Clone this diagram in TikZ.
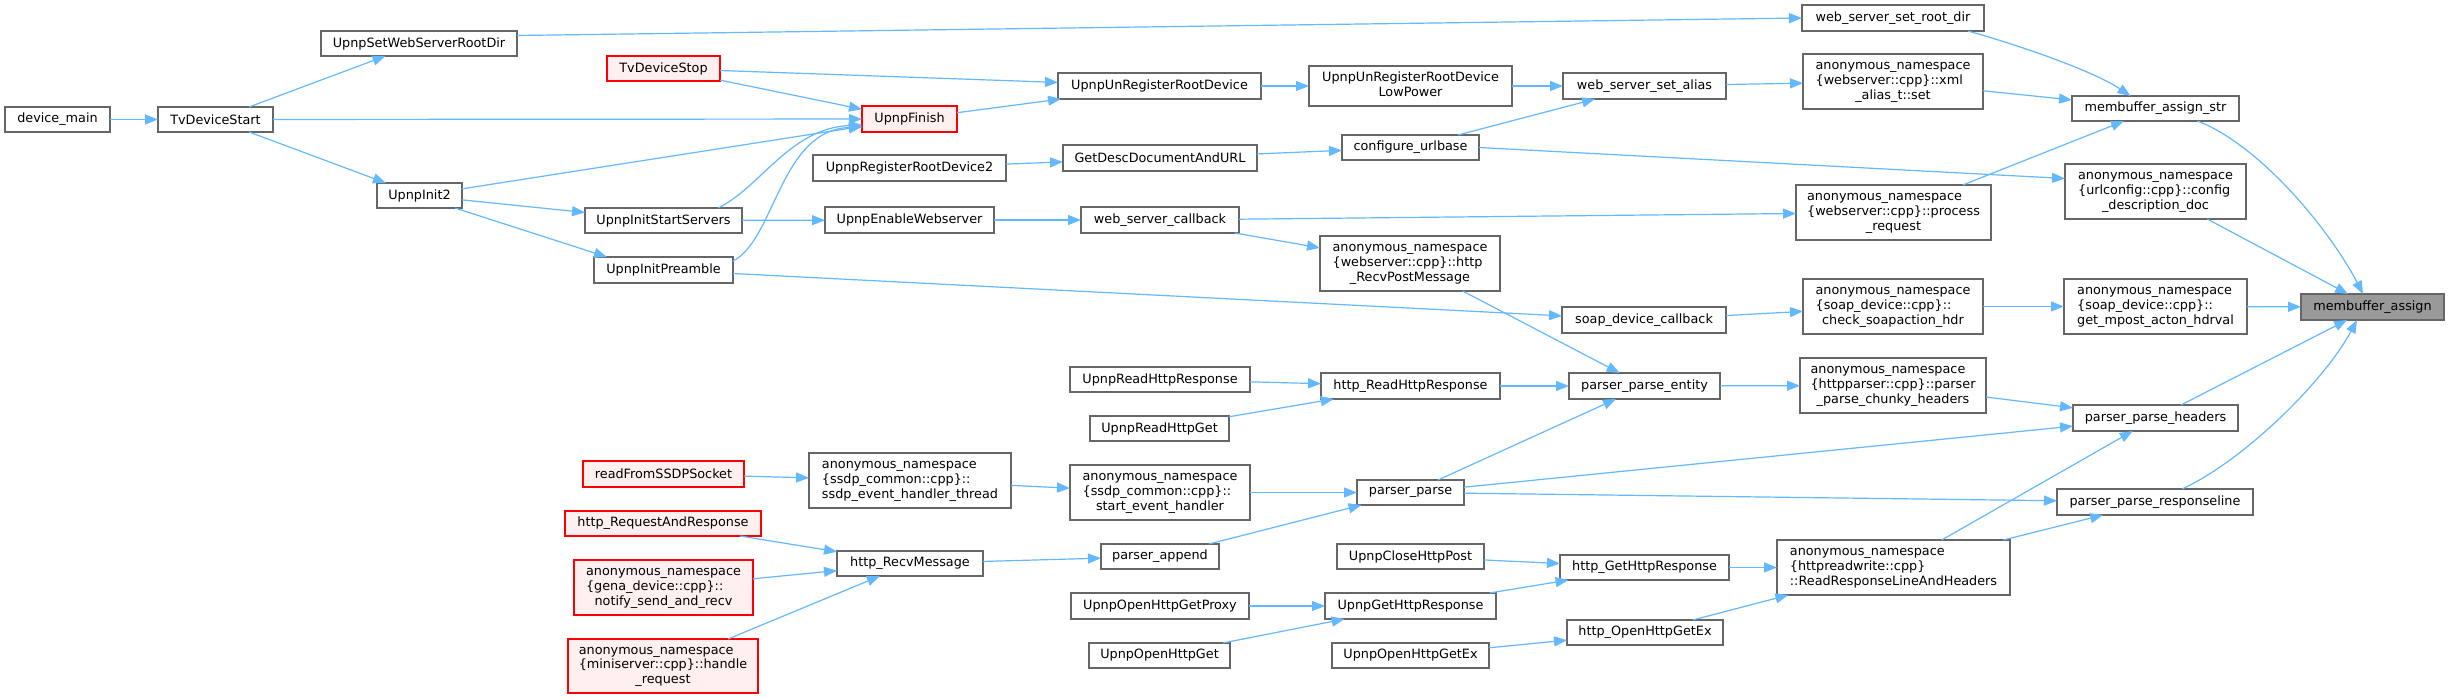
\documentclass[tikz,border=0pt]{standalone}
\usepackage{fontspec}
\setmainfont{DejaVu Sans}
\usetikzlibrary{arrows.meta,calc}
\definecolor{edgec}{HTML}{63B8FF}
\definecolor{nborder}{HTML}{666666}
\definecolor{rfill}{HTML}{FFF0F0}
\definecolor{rborder}{HTML}{FF0000}
\definecolor{gfill}{HTML}{999999}
\newcommand\gnode[7][]{\node[nbox,#1,minimum width={(#4-#2)*1pt},minimum height={(#5-#3)*1pt}] (#6) at ({(#2+#4)/2},{(#3+#5)/2}) {#7};}
\newcommand\threel[3]{\begin{tabular}{@{}l@{}}#1\\#2\\\multicolumn{1}{@{}c@{}}{#3}\end{tabular}}
\newcommand\twol[2]{\begin{tabular}{@{}l@{}}#1\\\multicolumn{1}{@{}c@{}}{#2}\end{tabular}}
\begin{document}
\begin{tikzpicture}[x=1pt,y=-1pt,
  nbox/.style={draw=nborder,fill=white,line width=1.25pt,inner sep=0pt,outer sep=0pt,
    font=\fontsize{12.8pt}{14.7pt}\selectfont,text=black},
  rbox/.style={draw=rborder,fill=rfill,line width=1.1pt},
  gbox/.style={fill=gfill},
  cedge/.style={draw=edgec,line width=1.2pt,-{Triangle[length=13pt,width=10pt]}}]
\fill[white] (0,0) rectangle (2449,699);
\useasboundingbox (0,0) rectangle (2449,699);
% nodes
\gnode{5}{107}{110}{132}{dm}{device\_main}
\gnode{158}{107}{273}{132}{tds}{TvDeviceStart}
\gnode{321}{31}{517}{56}{uswsrd}{UpnpSetWebServerRootDir}
\gnode[rbox]{607}{56}{720}{81}{tdstop}{TvDeviceStop}
\gnode{377}{183}{462}{208}{ui2}{UpnpInit2}
\gnode{585}{208}{742}{233}{uiss}{UpnpInitStartServers}
\gnode{594}{257}{733}{283}{uip}{UpnpInitPreamble}
\gnode[rbox]{862}{106}{957}{132}{uf}{UpnpFinish}
\gnode{1058}{73}{1261}{99}{uurd}{UpnpUnRegisterRootDevice}
\gnode{1309}{66}{1512}{106}{uurdlp}{\twol{UpnpUnRegisterRootDevice}{LowPower}}
\gnode{1563}{73}{1726}{99}{wssa}{web\_server\_set\_alias}
\gnode{1342}{135}{1479}{160}{cu}{configure\_urlbase}
\gnode{813}{155}{1006}{181}{urrd2}{UpnpRegisterRootDevice2}
\gnode{1063}{145}{1257}{171}{gdd}{GetDescDocumentAndURL}
\gnode{825}{207}{994}{233}{uew}{UpnpEnableWebserver}
\gnode{1081}{207}{1239}{233}{wsc}{web\_server\_callback}
\gnode{1320}{236}{1500}{291}{hrpm}{\threel{anonymous\_namespace}{\{webserver::cpp\}::http}{\_RecvPostMessage}}
\gnode{1562}{307}{1726}{333}{sdc}{soap\_device\_callback}
\gnode{1802}{5}{1984}{31}{wssrd}{web\_server\_set\_root\_dir}
\gnode{1803}{54}{1983}{109}{xas}{\threel{anonymous\_namespace}{\{webserver::cpp\}::xml}{\_alias\_t::set}}
\gnode{2072}{96}{2239}{121}{mas}{membuffer\_assign\_str}
\gnode{2065}{164}{2246}{219}{cdd}{\threel{anonymous\_namespace}{\{urlconfig::cpp\}::config}{\_description\_doc}}
\gnode{1796}{185}{1991}{240}{pr}{\threel{anonymous\_namespace}{\{webserver::cpp\}::process}{\_request}}
\gnode{1803}{279}{1983}{334}{csh}{\threel{anonymous\_namespace}{\{soap\_device::cpp\}::}{check\_soapaction\_hdr}}
\gnode{2064}{279}{2247}{334}{gmah}{\threel{anonymous\_namespace}{\{soap\_device::cpp\}::}{get\_mpost\_acton\_hdrval}}
\gnode[gbox]{2301}{294}{2444}{320}{ma}{membuffer\_assign}
\gnode[rbox]{583}{461}{744}{487}{rfs}{readFromSSDPSocket}
\gnode[rbox]{565}{511}{761}{536}{hrar}{http\_RequestAndResponse}
\gnode[rbox]{574}{560}{753}{615}{nsr}{\threel{anonymous\_namespace}{\{gena\_device::cpp\}::}{notify\_send\_and\_recv}}
\gnode[rbox]{568}{639}{758}{693}{hreq}{\threel{anonymous\_namespace}{\{miniserver::cpp\}::handle}{\_request}}
\gnode{809}{453}{1011}{508}{seht}{\threel{anonymous\_namespace}{\{ssdp\_common::cpp\}::}{ssdp\_event\_handler\_thread}}
\gnode{1070}{367}{1250}{392}{urhr}{UpnpReadHttpResponse}
\gnode{1321}{373}{1500}{399}{hrhr}{http\_ReadHttpResponse}
\gnode{1569}{373}{1720}{399}{ppe}{parser\_parse\_entity}
\gnode{1090}{416}{1229}{441}{urhg}{UpnpReadHttpGet}
\gnode{1070}{465}{1250}{520}{seh}{\threel{anonymous\_namespace}{\{ssdp\_common::cpp\}::}{start\_event\_handler}}
\gnode{1357}{480}{1464}{505}{pp}{parser\_parse}
\gnode{837}{551}{983}{576}{hrm}{http\_RecvMessage}
\gnode{1101}{544}{1219}{569}{pa}{parser\_append}
\gnode{1337}{544}{1484}{569}{uchp}{UpnpCloseHttpPost}
\gnode{1560}{555}{1729}{580}{hghr}{http\_GetHttpResponse}
\gnode{1071}{593}{1249}{619}{uohgp}{UpnpOpenHttpGetProxy}
\gnode{1325}{593}{1496}{619}{ughr}{UpnpGetHttpResponse}
\gnode{1089}{643}{1230}{668}{uohg}{UpnpOpenHttpGet}
\gnode{1332}{643}{1489}{668}{uohge}{UpnpOpenHttpGetEx}
\gnode{1567}{620}{1723}{645}{hohge}{http\_OpenHttpGetEx}
\gnode{1800}{358}{1986}{413}{ppch}{\threel{anonymous\_namespace}{\{httpparser::cpp\}::parser}{\_parse\_chunky\_headers}}
\gnode{2073}{405}{2238}{431}{pph}{parser\_parse\_headers}
\gnode{2057}{489}{2253}{515}{pprl}{parser\_parse\_responseline}
\gnode{1777}{540}{2010}{595}{rrlh}{\threel{anonymous\_namespace}{\{httpreadwrite::cpp\}}{::ReadResponseLineAndHeaders}}
% edges
\draw[cedge] (dm) -- (tds);
\draw[cedge] (tds) -- (uswsrd);
\draw[cedge] (tds) -- (uf);
\draw[cedge] (tds) -- (ui2);
\draw[cedge] ([yshift=8pt]uswsrd.east) -- (wssrd.west);
\draw[cedge] (tdstop) -- (uurd);
\draw[cedge] (tdstop) -- (uf);
\draw[cedge] (ui2) -- (uf);
\draw[cedge] (ui2) -- (uiss);
\draw[cedge] ([xshift=-7pt]ui2.south east) -- ([xshift=13pt]uip.north west);
\draw[cedge] ([xshift=-24pt]uiss.north east) .. controls (760,188) and (790,128) .. ([yshift=-6pt]uf.west);
\draw[cedge] ([yshift=9pt]uip.east) .. controls (775,240) and (780,130) .. ([yshift=-8pt]uf.west);
\draw[cedge] (uiss) -- (uew);
\draw[cedge] (uip) -- (sdc);
\draw[cedge] (uf) -- (uurd);
\draw[cedge] (uurd) -- (uurdlp);
\draw[cedge] (uurdlp) -- (wssa);
\draw[cedge] (urrd2) -- (gdd);
\draw[cedge] (gdd) -- (cu);
\draw[cedge] (cu) -- (wssa);
\draw[cedge] (cu.east) -- ([yshift=13pt]cdd.west);
\draw[cedge] (uew) -- (wsc);
\draw[cedge] (wsc) -- (pr);
\draw[cedge] (wsc) -- (hrpm);
\draw[cedge] (hrpm) -- (ppe);
\draw[cedge] (sdc) -- (csh);
\draw[cedge] (wssa) -- (xas);
\draw[cedge] ([xshift=-16pt]wssrd.south east) .. controls (2025,47) and (2095,72) .. ([xshift=-25pt]mas.north);
\draw[cedge] (xas) -- (mas);
\draw[cedge] (pr) -- (mas);
\draw[cedge] ([xshift=42pt]mas.south) .. controls (2260,145) and (2330,230) .. ([xshift=-9.5pt]ma.north);
\draw[cedge] (cdd) -- (ma);
\draw[cedge] (csh) -- (gmah);
\draw[cedge] (gmah) -- (ma);
\draw[cedge] (pph) -- (ma);
\draw[cedge] ([xshift=27pt]pprl.north) .. controls (2245,460) and (2325,380) .. ([xshift=-15.5pt]ma.south);
\draw[cedge] (urhr) -- (hrhr);
\draw[cedge] (urhg) -- (hrhr);
\draw[cedge] (hrhr) -- (ppe);
\draw[cedge] (ppe) -- (ppch);
\draw[cedge] (pp) -- (ppe);
\draw[cedge] (pp) -- (pph);
\draw[cedge] (pp) -- (pprl);
\draw[cedge] (ppch) -- (pph);
\draw[cedge] (rrlh) -- (pph);
\draw[cedge] (rrlh) -- (pprl);
\draw[cedge] (rfs) -- (seht);
\draw[cedge] (seht) -- (seh);
\draw[cedge] (seh) -- (pp);
\draw[cedge] (hrar) -- (hrm);
\draw[cedge] (nsr) -- (hrm);
\draw[cedge] (hreq) -- (hrm);
\draw[cedge] (hrm) -- (pa);
\draw[cedge] (pa) -- (pp);
\draw[cedge] (uchp) -- (hghr);
\draw[cedge] (uohgp) -- (ughr);
\draw[cedge] (uohg) -- (ughr);
\draw[cedge] (ughr) -- (hghr);
\draw[cedge] (uohge) -- (hohge);
\draw[cedge] (hghr) -- (rrlh);
\draw[cedge] (hohge) -- (rrlh);
\end{tikzpicture}
\end{document}
